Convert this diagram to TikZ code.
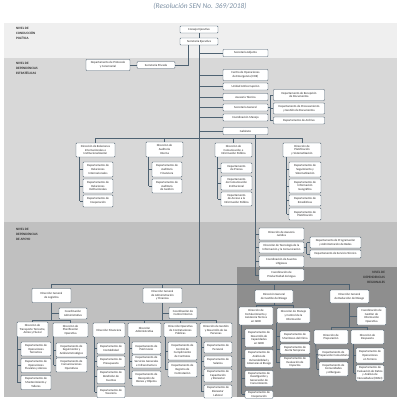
\documentclass[tikz,border=0pt]{standalone}
\usepackage{fontspec}
\setmainfont{Carlito}
\definecolor{lc}{HTML}{4E6272}
\definecolor{bandA}{HTML}{EFEFEF}
\definecolor{bandB}{HTML}{D8D8D8}
\definecolor{bandC}{HTML}{C0C0C0}
\definecolor{bandD}{HTML}{8E8E8E}
\definecolor{ttl}{HTML}{7B8FA3}
\begin{document}
\begin{tikzpicture}[x=1mm,y=-1mm,
 bx/.style={draw=lc, fill=white, rounded corners=0.8mm, line width=0.45mm, align=center, inner sep=0.3mm, font=\fontsize{8.6pt}{10.3pt}\selectfont, text=black!85},
 wh/.style 2 args={minimum width=#1mm, minimum height=#2mm},
 ln/.style={draw=lc, line width=0.65mm},
 lvl/.style={font=\fontsize{9.5pt}{14pt}\selectfont\bfseries, align=left, anchor=north west, inner sep=0, text=black!80}
]
\useasboundingbox (0,0) rectangle (400,400);
\fill[white] (0,0) rectangle (400,400);
\fill[bandA] (4,23) rectangle (397,58);
\fill[bandB] (4,58) rectangle (397,222);
\fill[bandC] (4,222) rectangle (397,397);
\fill[bandD] (237,267) rectangle (397,397);

\node[font=\fontsize{21pt}{24pt}\selectfont\itshape, text=ttl] (tt) at (200,6) {(Resolución SEN No. 369/2018)};

\node[lvl] (l1) at (16,27) {NIVEL DE\\CONDUCCIÓN\\POLÍTICA};
\node[lvl] (l2) at (16,62) {NIVEL DE\\DEPENDENCIAS\\ESTRATÉGICAS};
\node[lvl] (l3) at (16,228) {NIVEL DE\\DEPENDENCIAS\\DE APOYO};
\node[lvl, align=right, anchor=north east] (l4) at (385,271) {NIVEL DE\\DEPENDENCIAS\\REGIONALES};

% ---- top level
\node[bx, wh={38}{7}] (ce) at (199,29.5) {Consejo Ejecutivo};
\node[bx, wh={38}{7}] (se) at (199,41.5) {Secretaría Ejecutiva};
\node[bx, wh={45}{7}] (sa) at (245.5,53) {Secretaría Adjunta};
\node[bx, wh={38}{6.5}] (sp) at (156,65) {Secretaría Privada};
\node[bx, wh={44}{11}] (dpc) at (108,65) {Departamento de Protocolo\\y Ceremonial};
\node[bx, wh={45}{11}] (coe) at (245.5,75) {Centro de Operaciones\\de Emergencia (COE)};
\node[bx, wh={45}{7}] (ua) at (245.5,86.5) {Unidad Anticorrupción};
\node[bx, wh={45}{7}] (at) at (245.5,97) {Asesoría Técnica};
\node[bx, wh={45}{7}] (sg) at (245.5,107.5) {Secretaría General};
\node[bx, wh={45}{7}] (cm) at (245.5,117.5) {Coordinación Manejo};
\node[bx, wh={45}{7}] (gab) at (245.5,131) {Gabinete};
\node[bx, wh={51}{11}] (drd) at (299,95) {Departamento de Recepción\\de Documentos};
\node[bx, wh={51}{11}] (dpg) at (299,108.5) {Departamento de Procesamiento\\y Gestión de Documentos};
\node[bx, wh={51}{7}] (dar) at (299,120.5) {Departamento de Archivo};

\coordinate (bb) at (0,284);
\coordinate (sb) at (0,138);
\draw[ln] (ce) -- (se);
\draw[ln] (se.south) -- (se.south |- bb);
\foreach \n in {sa,coe,ua,at,sg,cm,gab} \draw[ln] (\n.west) -- (\n.west -| se.south);
\draw[ln] ([xshift=-11mm]se.south) |- (sp.east);
\draw[ln] (sp) -- (dpc);
\draw[ln] (sg.east) -- ([xshift=3mm]sg.east);
\draw[ln] ([xshift=-3mm]drd.west) -- ([xshift=-3mm]dar.west);
\foreach \n in {drd,dpg,dar} \draw[ln] (\n.west) -- ++(-3,0);

% ---- strategic directions
\node[bx, wh={39}{14}] (dri) at (95.5,150) {Dirección de Relaciones\\Internacionales e\\Institucionalización};
\node[bx, wh={37}{15}] (dai) at (164.5,149.5) {Dirección de\\Auditoría\\Interna};
\node[bx, wh={37}{14}] (dci) at (233.5,150) {Dirección de\\Comunicación e\\Información Pública};
\node[bx, wh={38}{14}] (dpl) at (302,150) {Dirección de\\Planificación\\y Sistematización};

\draw[ln] (dri.north |- sb) -- (dpl.north |- sb);
\foreach \n in {dri,dai,dci,dpl} \draw[ln] (\n.north) -- (\n.north |- sb);

\node[bx, wh={30}{15}] (dri1) at (98,169.5) {Departamento de\\Relaciones\\Internacionales};
\node[bx, wh={30}{14}] (dri2) at (98,186) {Departamento de\\Relaciones\\Institucionales};
\node[bx, wh={30}{12}] (dri3) at (98,201) {Departamento de\\Cooperación};
\node[bx, wh={30}{15}] (dai1) at (167,169.5) {Departamento de\\Auditoría\\Financiera};
\node[bx, wh={30}{14}] (dai2) at (167,186) {Departamento de\\Auditoría\\de Gestión};
\node[bx, wh={31}{10}] (dci1) at (236.5,168) {Departamento\\de Prensa};
\node[bx, wh={31}{14}] (dci2) at (236.5,183) {Departamento\\de Comunicación\\Institucional};
\node[bx, wh={31}{14}] (dci3) at (236.5,199) {Departamento\\de Acceso a la\\Información Pública};
\node[bx, wh={32}{15}] (dpl1) at (305,169.5) {Departamento de\\Seguimiento y\\Sistematización};
\node[bx, wh={32}{14}] (dpl2) at (305,186) {Departamento de\\Información\\Geográfica};
\node[bx, wh={32}{11}] (dpl3) at (305,200.5) {Departamento de\\Estadísticas};
\node[bx, wh={32}{12}] (dpl4) at (305,214) {Departamento de\\Planificación};

\draw[ln] ([xshift=-3mm]dri1.west |- dri.south) -- ([xshift=-3mm]dri3.west);
\foreach \n in {dri1,dri2,dri3} \draw[ln] (\n.west) -- ++(-3,0);
\draw[ln] ([xshift=-3mm]dai1.west |- dai.south) -- ([xshift=-3mm]dai2.west);
\foreach \n in {dai1,dai2} \draw[ln] (\n.west) -- ++(-3,0);
\draw[ln] ([xshift=-3mm]dci1.west |- dci.south) -- ([xshift=-3mm]dci3.west);
\foreach \n in {dci1,dci2,dci3} \draw[ln] (\n.west) -- ++(-3,0);
\draw[ln] ([xshift=-2mm]dpl1.west |- dpl.south) -- ([xshift=-2mm]dpl4.west);
\foreach \n in {dpl1,dpl2,dpl3,dpl4} \draw[ln] (\n.west) -- ++(-2,0);

% ---- support level
\node[bx, wh={45}{12}] (daj) at (281.5,234) {Dirección de Asesoría\\Jurídica};
\node[bx, wh={45}{11}] (dtic) at (281.5,247.5) {Dirección de Tecnología de la\\Información y la Comunicación};
\node[bx, wh={45}{11}] (cal) at (281.5,261.5) {Coordinación de Asuntos\\Litigiosos};
\node[bx, wh={45}{12}] (cpa) at (281.5,275) {Coordinación de\\Productividad del Agua};
\node[bx, wh={51}{11}] (dpar) at (335.5,242.5) {Departamento de Programación\\y Administración de Redes};
\node[bx, wh={51}{8}] (dst) at (335.5,254) {Departamento de Servicio Técnico};

\draw[ln] ([xshift=9.5mm]gab.south) -- ([xshift=9.5mm]gab.south |- cpa.west);
\foreach \n in {daj,dtic,cal,cpa} \draw[ln] (\n.west) -- ++(-4,0);
\draw[ln] (dtic.east) -- ++(3,0);
\draw[ln] ([xshift=-3mm]dpar.west) -- ([xshift=-3mm]dst.west);
\foreach \n in {dpar,dst} \draw[ln] (\n.west) -- ++(-3,0);

% ---- bottom directions general
\node[bx, wh={39}{14}] (dgl) at (51.5,295.5) {Dirección General\\de Logística};
\node[bx, wh={39}{15}] (dgaf) at (162.5,295.5) {Dirección General\\de Administración\\y Finanzas};
\node[bx, wh={38}{13}] (dggr) at (274,296.5) {Dirección General\\de Gestión del Riesgo};
\node[bx, wh={39}{13}] (dgrr) at (349.5,296.5) {Dirección General\\de Reducción del Riesgo};

\draw[ln] (dgl.north |- bb) -- (dgrr.north |- bb);
\foreach \n in {dgl,dgaf,dggr,dgrr} \draw[ln] (\n.north) -- (\n.north |- bb);

% logistics
\coordinate (lb) at (0,320);
\node[bx, wh={28}{11}] (ca) at (73,313.5) {Coordinación\\Administrativa};
\node[bx, wh={31}{15}] (dtt) at (32.5,329.5) {Dirección de\\Transporte Terrestre,\\Aéreo y Fluvial};
\node[bx, wh={35}{14}] (dpo) at (70.5,330) {Dirección de\\Planificación\\Operativa};
\draw[ln] (dgl.south) -- (dgl.south |- lb);
\draw[ln] (ca.west) -- (ca.west -| dgl.south);
\draw[ln] (dtt.north |- lb) -- (dpo.north |- lb);
\foreach \n in {dtt,dpo} \draw[ln] (\n.north) -- (\n.north |- lb);

\node[bx, wh={30}{14}] (dtt1) at (36,349) {Departamento de\\Operaciones\\Terrestres};
\node[bx, wh={30}{14}] (dtt2) at (36,365.5) {Departamento de\\Operaciones\\Fluviales y Aéreas};
\node[bx, wh={30}{14}] (dtt3) at (36,382.5) {Departamento de\\Mantenimiento y\\Talleres};
\node[bx, wh={31}{14}] (dpo1) at (71.5,350) {Departamento de\\Seguimiento y\\Análisis Estratégico};
\node[bx, wh={31}{14}] (dpo2) at (71.5,365) {Departamento de\\Comunicaciones\\Operativas};
\draw[ln] ([xshift=-3mm]dtt1.west |- dtt.south) -- ([xshift=-3mm]dtt3.west);
\foreach \n in {dtt1,dtt2,dtt3} \draw[ln] (\n.west) -- ++(-3,0);
\draw[ln] ([xshift=-2mm]dpo1.west |- dpo.south) -- ([xshift=-2mm]dpo2.west);
\foreach \n in {dpo1,dpo2} \draw[ln] (\n.west) -- ++(-2,0);

% administration & finance
\node[bx, wh={28}{11}] (cci) at (183,313) {Coordinación de\\Control Interno};
\node[bx, wh={32}{14}] (dfi) at (109,330) {Dirección Financiera};
\node[bx, wh={33}{14}] (dad) at (144.5,330) {Dirección\\Administrativa};
\node[bx, wh={33}{14}] (doc) at (180.5,330) {Dirección Operativa\\de Contrataciones\\Públicas};
\node[bx, wh={32}{14}] (dgdp) at (216,330) {Dirección de Gestión\\y Desarrollo de las\\Personas};
\draw[ln] (dgaf.south) -- (dgaf.south |- lb);
\draw[ln] (cci.west) -- (cci.west -| dgaf.south);
\draw[ln] (dfi.north |- lb) -- (dgdp.north |- lb);
\foreach \n in {dfi,dad,doc,dgdp} \draw[ln] (\n.north) -- (\n.north |- lb);

\node[bx, wh={28}{11}] (dfi1) at (111,348.5) {Departamento de\\Contabilidad};
\node[bx, wh={28}{11}] (dfi2) at (111,361.5) {Departamento de\\Presupuesto};
\node[bx, wh={28}{14}] (dfi3) at (111,376.5) {Departamento de\\Rendición de\\Cuentas};
\node[bx, wh={28}{11}] (dfi4) at (111,392) {Departamento de\\Tesorería};
\node[bx, wh={29}{12}] (dad1) at (146.5,348) {Departamento de\\Patrimonio};
\node[bx, wh={29}{13}] (dad2) at (146.5,361.5) {Departamento de\\Servicios Generales\\e Infraestructura};
\node[bx, wh={29}{15}] (dad3) at (146.5,378.5) {Departamento de\\Recepción de\\Bienes y Objetos};
\node[bx, wh={29}{18}] (doc1) at (182.5,351) {Departamento de\\Control de\\Cumplimiento\\de Contratos};
\node[bx, wh={29}{15}] (doc2) at (182.5,369.5) {Departamento de\\Registro de\\Contratación};
\node[bx, wh={28}{11}] (dgdp1) at (218,347.5) {Departamento de\\Personal};
\node[bx, wh={28}{11}] (dgdp2) at (218,361.5) {Departamento de\\Salarios};
\node[bx, wh={28}{13}] (dgdp3) at (218,375.5) {Departamento de\\Capacitación\\y Bienestar};
\node[bx, wh={28}{13}] (dgdp4) at (218,391.5) {Departamento de\\Bienestar\\Laboral};
\draw[ln] ([xshift=-2mm]dfi1.west |- dfi.south) -- ([xshift=-2mm]dfi4.west);
\foreach \n in {dfi1,dfi2,dfi3,dfi4} \draw[ln] (\n.west) -- ++(-2,0);
\draw[ln] ([xshift=-2mm]dad1.west |- dad.south) -- ([xshift=-2mm]dad3.west);
\foreach \n in {dad1,dad2,dad3} \draw[ln] (\n.west) -- ++(-2,0);
\draw[ln] ([xshift=-2mm]doc1.west |- doc.south) -- ([xshift=-2mm]doc2.west);
\foreach \n in {doc1,doc2} \draw[ln] (\n.west) -- ++(-2,0);
\draw[ln] ([xshift=-2mm]dgdp1.west |- dgdp.south) -- ([xshift=-2mm]dgdp4.west);
\foreach \n in {dgdp1,dgdp2,dgdp3,dgdp4} \draw[ln] (\n.west) -- ++(-2,0);

% regional
\coordinate (rb) at (0,305);
\coordinate (rr) at (0,327);
\node[bx, wh={34}{18}] (dfat) at (256,316) {Dirección de\\Fortalecimiento y\\Asistencia Técnica\\en GIRD};
\node[bx, wh={33}{15}] (dmci) at (293.5,315.5) {Dirección de Manejo\\y Control de la\\Información};
\node[bx, wh={29}{18}] (cgio) at (371.5,316) {Coordinación de\\Gestión de\\Información\\Operativa};
\node[bx, wh={34}{14}] (dprep) at (331,337) {Dirección de\\Preparación};
\node[bx, wh={33}{14}] (dresp) at (367.5,337) {Dirección de\\Respuesta};
\draw[ln] (dggr.south) -- (dggr.south |- rb);
\draw[ln] (dfat.north |- rb) -- (dmci.north |- rb);
\foreach \n in {dfat,dmci} \draw[ln] (\n.north) -- (\n.north |- rb);
\draw[ln] (dgrr.south) -- (dgrr.south |- rr);
\draw[ln] (cgio.west) -- (cgio.west -| dgrr.south);
\draw[ln] (dprep.north |- rr) -- (dresp.north |- rr);
\foreach \n in {dprep,dresp} \draw[ln] (\n.north) -- (\n.north |- rr);

\node[bx, wh={28}{18}] (dfat1) at (259,338) {Departamento de\\Desarrollo de\\Capacidades\\en GIRD};
\node[bx, wh={28}{18}] (dfat2) at (259,358.5) {Departamento de\\Análisis de\\Vulnerabilidad y\\Amenazas al Riesgo};
\node[bx, wh={28}{16}] (dfat3) at (259,378.5) {Departamento de\\Investigación y\\Generación de\\Conocimiento};
\node[bx, wh={28}{7.5}, anchor=north] (dfat4) at (259,390.5) {Departamento de\\Cooperación};
\node[bx, wh={30}{11}] (dmci1) at (295,336.5) {Departamento de\\Monitoreo del Clima};
\node[bx, wh={30}{10}] (dmci2) at (295,349) {Departamento de\\Alerta Temprana};
\node[bx, wh={30}{12}] (dmci3) at (295,362.5) {Departamento de\\Evaluación de\\Impactos};
\node[bx, wh={29}{10}] (dprep1) at (333.5,354) {Departamento de\\Preparación Comunitaria};
\node[bx, wh={29}{14}] (dprep2) at (333.5,369) {Departamento de\\Comunidades\\y Albergues};
\node[bx, wh={28}{15}] (dresp1) at (370,355.5) {Departamento de\\Operaciones\\en Terreno};
\node[bx, wh={28}{16}] (dresp2) at (370,373) {Departamento de\\Evaluación de Daños\\y Análisis de\\Necesidades (EDAN)};
\draw[ln] ([xshift=-3mm]dfat1.west |- dfat.south) -- ([xshift=-3mm]dfat4.west);
\foreach \n in {dfat1,dfat2,dfat3,dfat4} \draw[ln] (\n.west) -- ++(-3,0);
\draw[ln] ([xshift=-3mm]dmci1.west |- dmci.south) -- ([xshift=-3mm]dmci3.west);
\foreach \n in {dmci1,dmci2,dmci3} \draw[ln] (\n.west) -- ++(-3,0);
\draw[ln] ([xshift=-2mm]dprep1.west |- dprep.south) -- ([xshift=-2mm]dprep2.west);
\foreach \n in {dprep1,dprep2} \draw[ln] (\n.west) -- ++(-2,0);
\draw[ln] ([xshift=-2mm]dresp1.west |- dresp.south) -- ([xshift=-2mm]dresp2.west);
\foreach \n in {dresp1,dresp2} \draw[ln] (\n.west) -- ++(-2,0);
\end{tikzpicture}
\end{document}
